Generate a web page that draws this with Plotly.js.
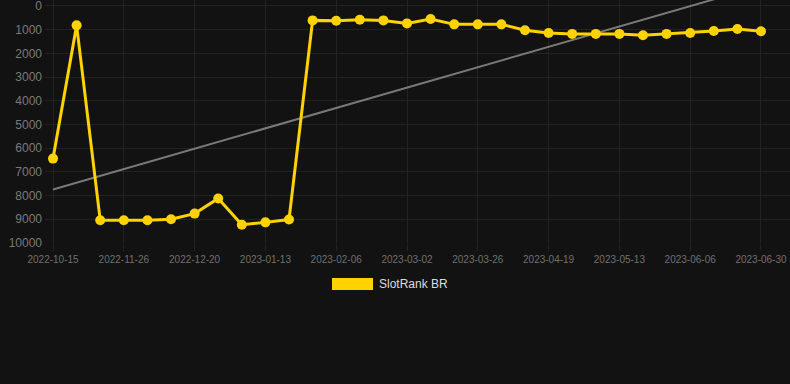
<!DOCTYPE html>
<html>
<head>
<meta charset="utf-8">
<script src="https://cdn.plot.ly/plotly-3.0.1.min.js"></script>
<style>
  html, body { margin: 0; padding: 0; background: #121212; }
  #chart { width: 790px; height: 384px; }
</style>
</head>
<body>
<div id="chart"></div>
<script>
// Dates (category labels)
const dates = [
  "2022-10-15", "2022-10-29", "2022-11-12", "2022-11-26", "2022-12-04", "2022-12-12",
  "2022-12-20", "2022-12-28", "2023-01-05", "2023-01-13", "2023-01-21", "2023-01-29",
  "2023-02-06", "2023-02-14", "2023-02-22", "2023-03-02", "2023-03-10", "2023-03-18",
  "2023-03-26", "2023-04-03", "2023-04-11", "2023-04-19", "2023-04-27", "2023-05-05",
  "2023-05-13", "2023-05-21", "2023-05-29", "2023-06-06", "2023-06-14", "2023-06-22",
  "2023-06-30"
];
// SlotRank BR rank values
const ranks = [
  6440, 820, 9040, 9040, 9040, 9000,
  8760, 8120, 9230, 9130, 9010, 610,
  625, 583, 610, 736, 555, 778,
  778, 778, 1028, 1139, 1180, 1180,
  1180, 1236, 1180, 1139, 1055, 972,
  1070
];
// Trend line end values (first and last date)
const trendDates = ["2022-10-15", "2023-06-30"];
const trendValues = [7740, -850];
// Tick labels shown on the x axis
const xTickLabels = dates.filter((d, i) => i % 3 === 0);
const yTickValues = [0, 1000, 2000, 3000, 4000, 5000, 6000, 7000, 8000, 9000, 10000];
const seriesName = "SlotRank BR";

const gold = "#FFD200";

const traces = [
  {
    x: trendDates,
    y: trendValues,
    type: "scatter",
    mode: "lines",
    line: { color: "rgba(140,140,140,0.85)", width: 2 },
    hoverinfo: "skip",
    showlegend: false
  },
  {
    x: dates,
    y: ranks,
    type: "scatter",
    mode: "lines+markers",
    name: seriesName,
    line: { color: gold, width: 3 },
    marker: { color: gold, size: 10 },
    showlegend: false
  }
];

const layout = {
  width: 790,
  height: 384,
  paper_bgcolor: "#121212",
  plot_bgcolor: "#121212",
  margin: { l: 45, r: 0, t: 0, b: 141 },
  font: { family: "Liberation Sans, Arial, sans-serif", color: "#777" },
  showlegend: false,
  xaxis: {
    type: "category",
    categoryorder: "array",
    categoryarray: dates,
    range: [-0.34, 31.23],
    tickmode: "array",
    tickvals: xTickLabels,
    ticktext: xTickLabels,
    tickangle: 0,
    tickfont: { size: 10, color: "#707070" },
    showgrid: true,
    gridcolor: "#222222",
    gridwidth: 1,
    zeroline: false,
    showline: false,
    ticks: "outside",
    ticklen: 7,
    tickcolor: "#222222"
  },
  yaxis: {
    range: [10000, -250],
    tickmode: "array",
    tickvals: yTickValues,
    ticktext: yTickValues.map(String),
    tickfont: { size: 12, color: "#7a7a7a" },
    ticklabeloverflow: "allow",
    showgrid: true,
    gridcolor: "#222222",
    gridwidth: 1,
    zeroline: false,
    showline: false,
    ticks: "",
    ticklabelstandoff: 2
  },
  shapes: [
    {
      type: "rect", xref: "paper", yref: "paper",
      x0: (332 - 45) / 745, x1: (373 - 45) / 745,
      y0: -(290 - 243) / 243, y1: -(278 - 243) / 243,
      fillcolor: gold, line: { width: 0 }
    }
  ],
  annotations: [
    {
      text: seriesName, xref: "paper", yref: "paper",
      x: (377 - 45) / 745, y: -(284 - 243) / 243,
      xanchor: "left", yanchor: "middle", showarrow: false,
      font: { size: 12, color: "#dddddd" }
    }
  ]
};

Plotly.newPlot("chart", traces, layout, { displayModeBar: false, staticPlot: true });
</script>
</body>
</html>
